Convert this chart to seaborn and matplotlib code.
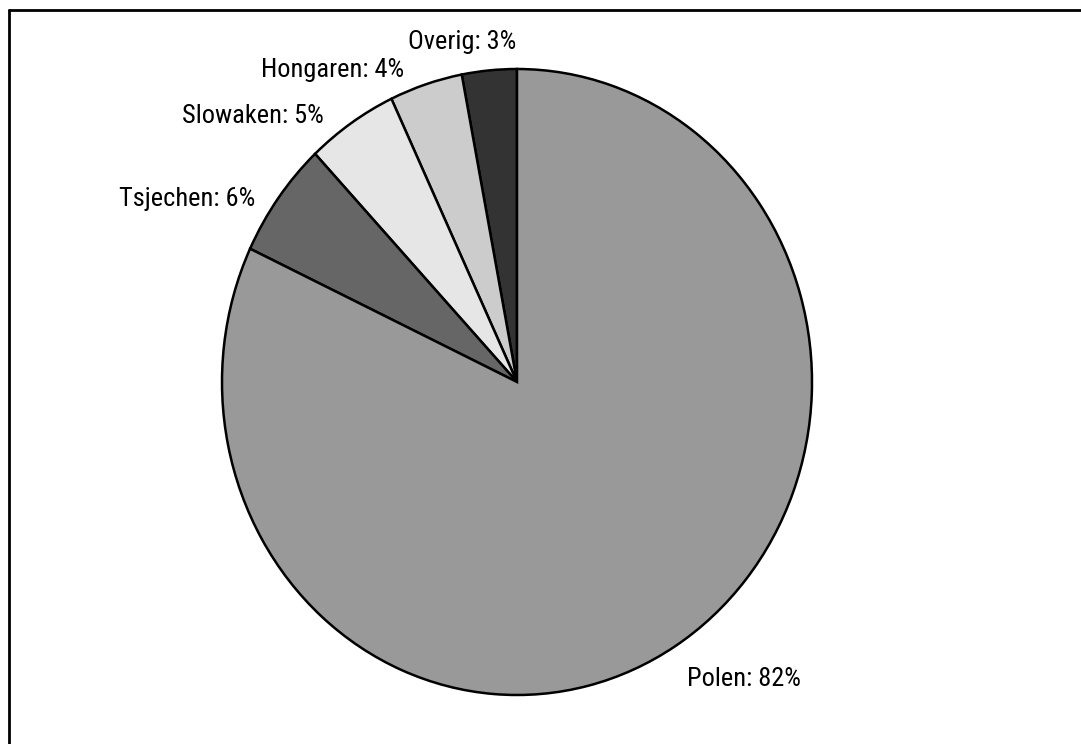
import matplotlib
matplotlib.use("Agg")
import matplotlib.pyplot as plt
import seaborn as sns
from matplotlib.lines import Line2D

# data (counter-clockwise from the top)
groups = ["Overig", "Hongaren", "Slowaken", "Tsjechen", "Polen"]
shares = [3, 4, 5, 6, 82]
grays = ["#333333", "#cccccc", "#e6e6e6", "#666666", "#999999"]

# label anchors in axes data units (x, baseline y, ha)
label_pos = [(-0.003, 1.064, "right"),
             (-0.383, 0.974, "right"),
             (-0.654, 0.827, "right"),
             (-0.888, 0.562, "right"),
             (0.576, -0.971, "left")]


def main():
    sns.set_theme(style="white")
    plt.rcParams['font.family'] = ['Roboto Condensed', 'Liberation Sans', 'DejaVu Sans']

    fig = plt.figure(figsize=(10.81, 7.44), dpi=100)
    ax = fig.add_axes([222 / 1081, 1 - 695 / 744, 590 / 1081, 626 / 744])

    ax.pie(shares, colors=grays, startangle=90, counterclock=True,
           radius=1, wedgeprops=dict(edgecolor="black", linewidth=1.8))
    ax.set_aspect("auto")
    ax.set_xlim(-1, 1)
    ax.set_ylim(-1, 1)
    ax.axis("off")

    for name, val, (x, y, ha) in zip(groups, shares, label_pos):
        ax.text(x, y, f"{name}: {val}%", ha=ha, va="baseline",
                fontsize=19, color="black")

    # frame (only top and left visible in the crop)
    fig.add_artist(Line2D([9 / 1081, 9 / 1081], [0, 1 - 10 / 744],
                          transform=fig.transFigure, color="black", linewidth=2))
    fig.add_artist(Line2D([9 / 1081, 1], [1 - 10 / 744, 1 - 10 / 744],
                          transform=fig.transFigure, color="black", linewidth=2))

    fig.savefig("out.png", dpi=100)


if __name__ == "__main__":
    main()
